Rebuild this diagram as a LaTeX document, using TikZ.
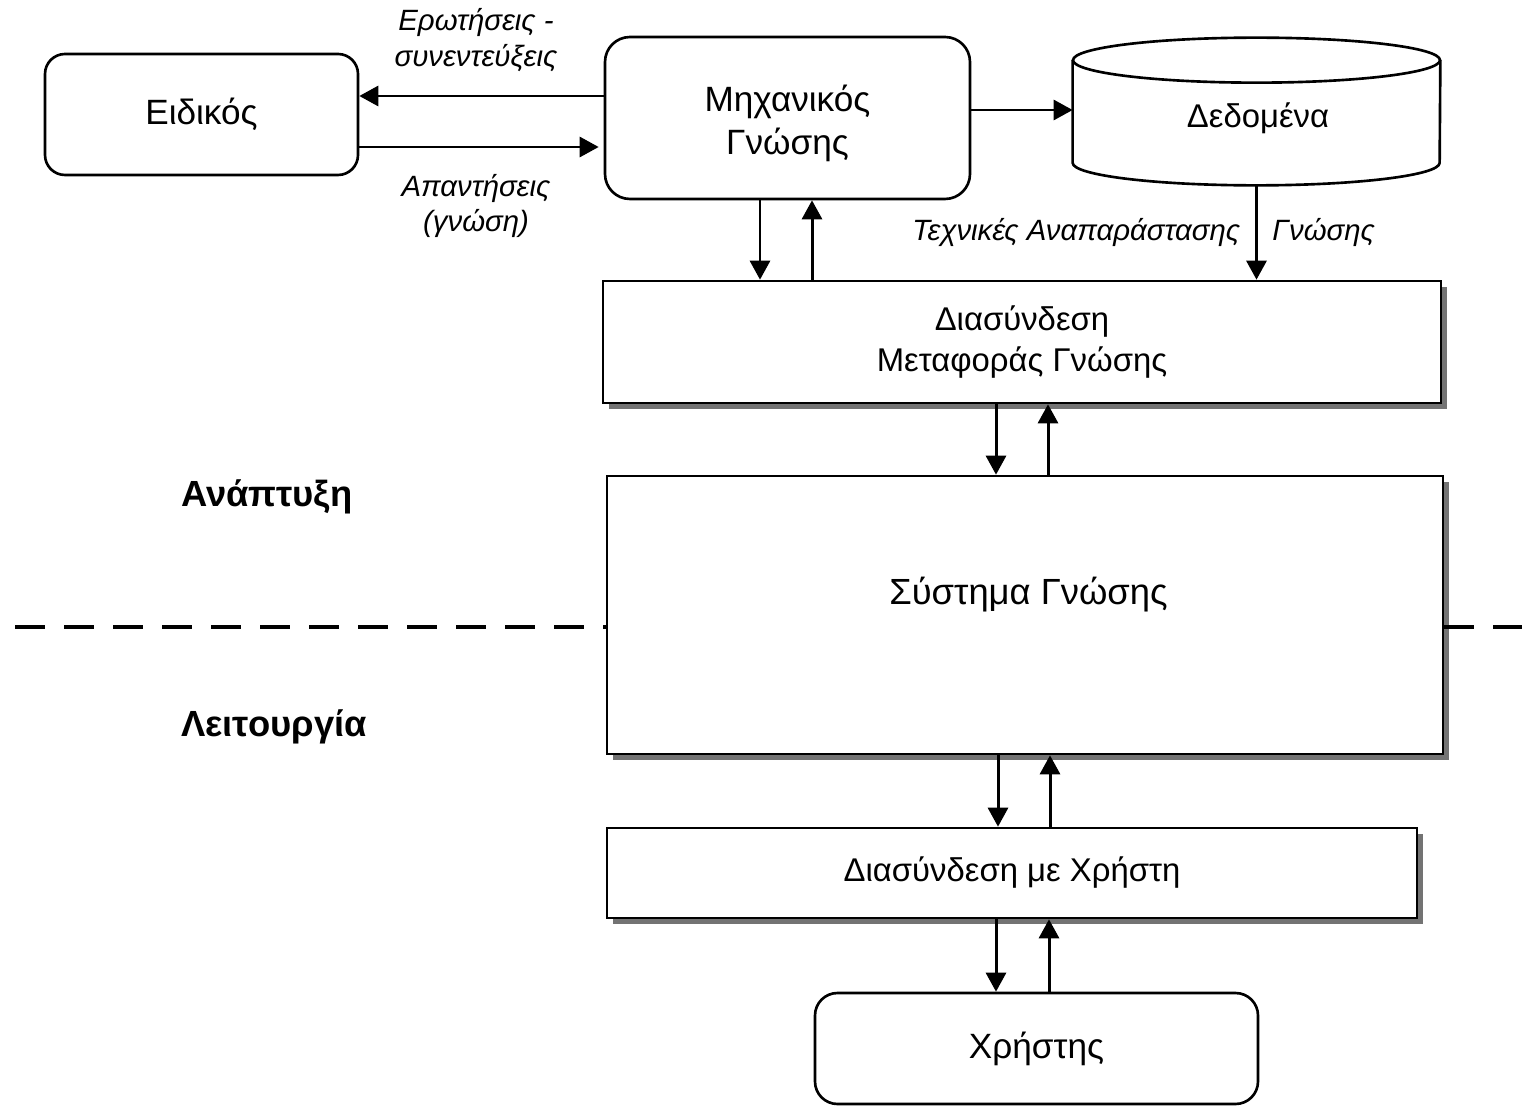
\documentclass[tikz,border=0pt]{standalone}
\usepackage{fontspec}
\setmainfont{Liberation Sans}
\usepackage{tikz}
\usetikzlibrary{positioning, arrows.meta, shadows}

\begin{document}
\begin{tikzpicture}[
        roundbox/.style={
            rectangle,
            draw,
            line width=1.5pt,
            align=center,
            font=\fontsize{20}{24.5}\selectfont
        },
        flatbox/.style={
            rectangle,
            draw,
            fill=white,
            line width=1.5pt,
            align=center,
            font=\fontsize{18.7}{23}\selectfont,
            drop shadow={shadow xshift=0.11cm, shadow yshift=-0.11cm, opacity=0.55, fill=black}
        },
        boxtext/.style={
            align=center,
            font=\fontsize{20}{24.5}\selectfont
        },
        note/.style={
            align=center,
            font=\fontsize{16.7}{20}\selectfont\itshape
        },
        phase/.style={
            anchor=west,
            font=\fontsize{20.7}{25}\selectfont\bfseries
        },
        arrow/.style={
            -{Triangle[length=0.38cm, width=0.4cm]},
            line width=1.7pt
        }
    ]
        \useasboundingbox (0,0) rectangle (30.44,-22.2);

        \node[roundbox, rounded corners=0.4cm, minimum width=6.26cm, minimum height=2.42cm] (expert) at (4.03,-2.29) {Ειδικός};
        \node[roundbox, rounded corners=0.5cm, minimum width=7.3cm, minimum height=3.24cm] (engineer) at (15.75,-2.36) {};
        \node[boxtext] (engineertext) at (15.75,-2.46) {Μηχανικός\\Γνώσης};

        % data store drawn as a cylinder round an empty frame
        \node[minimum width=7.34cm, minimum height=2.94cm, inner sep=0pt] (data) at (25.13,-2.23) {};
        \draw[line width=1.5pt] ([yshift=-0.45cm]data.north) ellipse [x radius=3.67cm, y radius=0.45cm];
        \draw[line width=1.5pt] ([yshift=-0.45cm]data.north west) -- ([yshift=0.45cm]data.south west)
            arc[start angle=180, end angle=360, x radius=3.67cm, y radius=0.45cm] -- ([yshift=-0.45cm]data.north east);
        \node[boxtext, font=\fontsize{18.7}{23}\selectfont] (datatext) at (25.16,-2.36) {Δεδομένα};

        \node[flatbox, minimum width=16.76cm, minimum height=2.44cm] (transfer) at (20.44,-6.84) {Διασύνδεση\\Μεταφοράς Γνώσης};
        \node[flatbox, minimum width=16.72cm, minimum height=5.56cm] (system) at (20.5,-12.3) {};
        \node[boxtext, font=\fontsize{20.7}{25}\selectfont] (systemtext) at (20.57,-11.9) {Σύστημα Γνώσης};
        \node[flatbox, minimum width=16.2cm, minimum height=1.8cm] (userif) at (20.24,-17.46) {Διασύνδεση με Χρήστη};
        \node[roundbox, rounded corners=0.45cm, minimum width=8.86cm, minimum height=2.22cm] (user) at (20.73,-20.97) {Χρήστης};

        \node[phase] (devel) at (3.5,-9.94) {Ανάπτυξη};
        \node[phase] (oper) at (3.5,-14.54) {Λειτουργία};

        % dialogue with the expert
        \draw[arrow] (engineer.west |- 0,-1.92) -- (expert.east |- 0,-1.92);
        \draw[arrow] (expert.east |- 0,-2.94) -- ([xshift=-0.1cm]engineer.west |- 0,-2.94);
        \node[note] (questions) at (9.52,-0.8) {Ερωτήσεις -\\συνεντεύξεις};
        \node[note] (answers) at (9.52,-4.12) {Απαντήσεις\\(γνώση)};

        \draw[arrow] (engineer.east |- 0,-2.2) -- (data.west |- 0,-2.2);
        \draw[arrow] (data.south) -- (data.south |- transfer.north)
            node[midway, left=0.18cm, note] {Τεχνικές Αναπαράστασης}
            node[midway, right=0.17cm, note] {Γνώσης};

        % vertical links
        \draw[arrow] (engineer.south -| 15.2,0) -- (transfer.north -| 15.2,0);
        \draw[arrow] (transfer.north -| 16.24,0) -- (engineer.south -| 16.24,0);
        \draw[arrow] (transfer.south -| 19.92,0) -- (system.north -| 19.92,0);
        \draw[arrow] (system.north -| 20.96,0) -- (transfer.south -| 20.96,0);
        \draw[arrow] (system.south -| 19.96,0) -- (userif.north -| 19.96,0);
        \draw[arrow] (userif.north -| 21.0,0) -- (system.south -| 21.0,0);
        \draw[arrow] (userif.south -| 19.92,0) -- (user.north -| 19.92,0);
        \draw[arrow] (user.north -| 20.98,0) -- (userif.south -| 20.98,0);

        % boundary between the phases
        \draw[line width=2.3pt, dash pattern=on 0.6cm off 0.38cm] (0.3,-12.54) -- (system.west |- 0,-12.54);
        \draw[line width=2.3pt, dash pattern=on 0.6cm off 0.38cm] (system.east |- 0,-12.54) -- (30.44,-12.54);

    \end{tikzpicture}
\end{document}
